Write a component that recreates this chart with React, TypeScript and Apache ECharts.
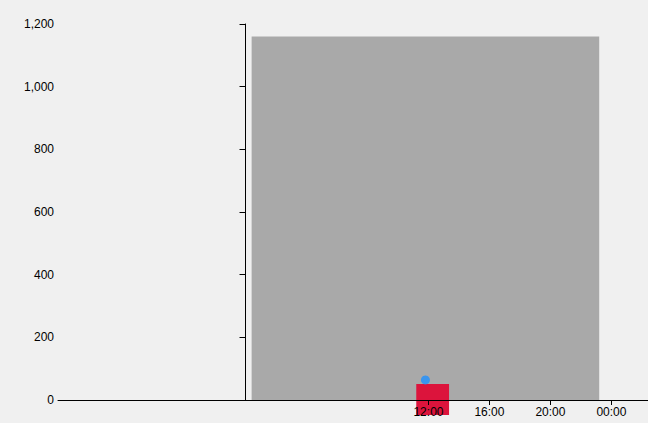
import { useEffect, useRef } from 'react'
import * as echarts from 'echarts'

// hours, 0 = midnight of the first day
const xMin = -12.3
const xMax = 26.4
const hourTicks = [12, 16, 20, 24]
const yTicks = [0, 200, 400, 600, 800, 1000, 1200]

// [start hour, end hour, value]
const grayBlock = [[0.4, 23.2, 1160]]
// [start hour, end hour, low, high]
const redBlock = [[11.2, 13.35, -48, 51]]
const bluePoints = [[11.8, 64]]

export default function App() {
  const ref = useRef<HTMLDivElement | null>(null)

  useEffect(() => {
    if (!ref.current) return
    const chart = echarts.init(ref.current, null, { renderer: 'svg' })
    const font = 'Liberation Sans'

    chart.setOption({
      animation: false,
      backgroundColor: '#F0F0F0',
      grid: { left: 58, top: 24, right: 0, bottom: 23 },
      xAxis: {
        type: 'value',
        min: xMin,
        max: xMax,
        splitLine: { show: false },
        axisLine: { lineStyle: { color: '#000' } },
        axisTick: { customValues: hourTicks, length: 5, lineStyle: { color: '#000' } },
        axisLabel: {
          customValues: hourTicks,
          color: '#000',
          fontFamily: font,
          fontSize: 12,
          margin: 6,
          formatter: (v: number) => String(v % 24).padStart(2, '0') + ':00'
        },
        z: 10
      },
      yAxis: {
        type: 'value',
        min: 0,
        max: 1200,
        interval: 200,
        splitLine: { show: false },
        axisLine: { show: true, lineStyle: { color: '#000' } },
        axisTick: { show: true, length: 6, lineStyle: { color: '#000' } },
        axisLabel: { color: '#000', fontFamily: font, fontSize: 12, margin: 4 }
      },
      series: [
        {
          type: 'custom',
          data: grayBlock,
          renderItem: (_p: any, api: any) => {
            const a = api.coord([api.value(0), api.value(2)])
            const b = api.coord([api.value(1), 0])
            return { type: 'rect', shape: { x: a[0], y: a[1], width: b[0] - a[0], height: b[1] - a[1] }, style: { fill: '#A9A9A9' } }
          },
          z: 1
        },
        {
          type: 'custom',
          clip: false,
          data: redBlock,
          renderItem: (_p: any, api: any) => {
            const a = api.coord([api.value(0), api.value(3)])
            const b = api.coord([api.value(1), api.value(2)])
            return { type: 'rect', shape: { x: a[0], y: a[1], width: b[0] - a[0], height: b[1] - a[1] }, style: { fill: '#DC143C' } }
          },
          z: 2
        },
        {
          type: 'scatter',
          data: bluePoints,
          symbolSize: 9,
          itemStyle: { color: '#1E90FF' },
          z: 3
        }
      ]
    })
    void yTicks
    return () => chart.dispose()
  }, [])

  return <div ref={ref} style={{ position: 'absolute', left: 0, top: 0, width: 648, height: 423 }} />
}
